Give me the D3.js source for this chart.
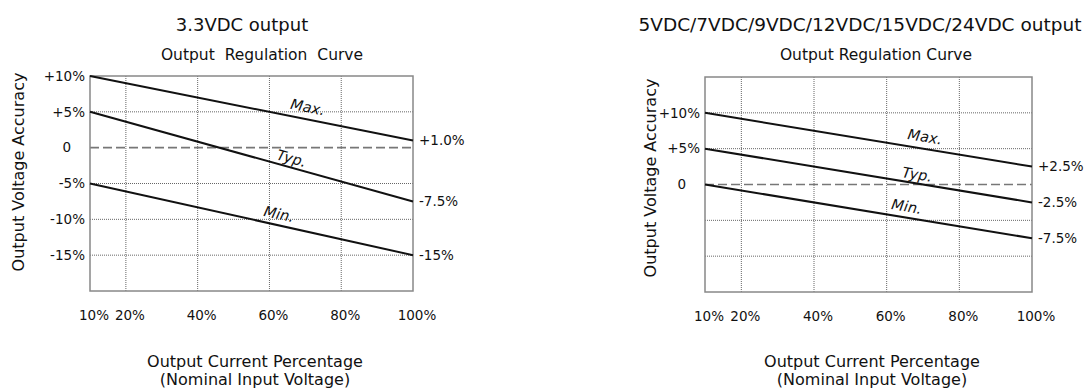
<!DOCTYPE html>
<html>
<head>
  <meta charset="utf-8">
  <title>output regulation</title>
  <script src="https://cdnjs.cloudflare.com/ajax/libs/d3/7.8.5/d3.min.js"></script>
  <style>
    body { margin: 0; background: #fff; }
    text { font-family: "DejaVu Sans", sans-serif; fill: #111; }
  </style>
</head>
<body>
<script>
var width = 1084, height = 389;

// shared x axis (output current %)
var xTicks = [10, 20, 40, 60, 80, 100];
var xTickLabels = ["10%", "20%", "40%", "60%", "80%", "100%"];
var curveNames = ["Max.", "Typ.", "Min."];

// 3.3VDC panel
var leftYTicks = [10, 5, 0, -5, -10, -15];
var leftYTickLabels = ["+10%", "+5%", "0", "-5%", "-10%", "-15%"];
var leftStart = [10, 5, -5];       // at 10% load
var leftEnd = [1.0, -7.5, -15];    // at 100% load
var leftEndLabels = ["+1.0%", "-7.5%", "-15%"];
var leftLabelAt = [70, 65.5, 62];  // where the curve name sits (x %)

// 5..24VDC panel
var rightYTicks = [10, 5, 0];
var rightYTickLabels = ["+10%", "+5%", "0"];
var rightGrid = [10, 5, -5, -10];
var rightStart = [10, 5, 0];
var rightEnd = [2.5, -2.5, -7.5];
var rightEndLabels = ["+2.5%", "-2.5%", "-7.5%"];
var rightLabelAt = [70, 68, 65];

var svg = d3.select("body").append("svg").attr("width", width).attr("height", height);

function panel(o) {
  var x = d3.scaleLinear().domain([10, 100]).range([o.x0, o.x1]);
  var y = d3.scaleLinear().domain(o.yDomain).range([o.y1, o.y0]);
  var g = svg.append("g");

  g.append("text").attr("x", o.titleX).attr("y", 31).attr("text-anchor", "middle")
    .style("font-size", o.titleSize + "px").text(o.title);
  g.append("text").attr("x", o.subX).attr("y", 60).attr("text-anchor", "middle")
    .style("font-size", "15.5px").style("word-spacing", o.subSpacing + "px").text("Output Regulation Curve");

  // grid
  g.selectAll("line.vg").data(xTicks.filter(function(d) { return d > 10 && d < 100; }))
    .enter().append("line").attr("class", "vg")
    .attr("x1", x).attr("x2", x).attr("y1", o.y0).attr("y2", o.y1)
    .attr("stroke", "#666").attr("stroke-width", 1).attr("stroke-dasharray", "1,1");
  g.selectAll("line.hg").data(o.grid)
    .enter().append("line").attr("class", "hg")
    .attr("x1", o.x0).attr("x2", o.x1).attr("y1", y).attr("y2", y)
    .attr("stroke", "#666").attr("stroke-width", 1).attr("stroke-dasharray", "1,1");
  g.append("line").attr("x1", o.x0).attr("x2", o.x1).attr("y1", y(0)).attr("y2", y(0))
    .attr("stroke", "#777").attr("stroke-width", 1.6).attr("stroke-dasharray", "9,4");

  g.append("rect").attr("x", o.x0).attr("y", o.y0).attr("width", o.x1 - o.x0).attr("height", o.y1 - o.y0)
    .attr("fill", "none").attr("stroke", "#888").attr("stroke-width", 1.5);

  // y tick labels
  g.selectAll("text.yt").data(o.yTicks).enter().append("text").attr("class", "yt")
    .attr("x", function(d, i) { return o.x0 - 5 - (o.yLabels[i].indexOf("%") < 0 ? 14 : 0); })
    .attr("y", y).attr("dy", "0.35em").attr("text-anchor", "end")
    .style("font-size", "13.5px").text(function(d, i) { return o.yLabels[i]; });

  // x tick labels
  g.selectAll("text.xt").data(xTicks).enter().append("text").attr("class", "xt")
    .attr("x", function(d) { return x(d) + 4; }).attr("y", o.y1 + 29).attr("text-anchor", "middle")
    .style("font-size", "13.5px").text(function(d, i) { return xTickLabels[i]; });

  // axis titles
  g.append("text").attr("transform", "translate(" + o.yTitleX + "," + o.yTitleY + ") rotate(-90)")
    .attr("text-anchor", "middle").style("font-size", "16px").text("Output Voltage Accuracy");
  g.append("text").attr("x", o.xTitleX).attr("y", 367).attr("text-anchor", "middle")
    .style("font-size", "16px").text("Output Current Percentage");
  g.append("text").attr("x", o.xTitleX).attr("y", 385).attr("text-anchor", "middle")
    .style("font-size", "16px").text("(Nominal Input Voltage)");

  // curves
  var line = d3.line().x(function(d) { return x(d[0]); }).y(function(d) { return y(d[1]); });
  curveNames.forEach(function(name, i) {
    var pts = [[10, o.start[i]], [100, o.end[i]]];
    g.append("path").attr("d", line(pts)).attr("fill", "none")
      .attr("stroke", "#111").attr("stroke-width", 2);

    g.append("text").attr("x", o.x1 + 6).attr("y", y(o.end[i])).attr("dy", "0.35em")
      .style("font-size", "13.5px").text(o.endLabels[i]);

    var lx = o.labelAt[i];
    var ly = o.start[i] + (o.end[i] - o.start[i]) * (lx - 10) / 90;
    var ang = Math.atan2(y(o.end[i]) - y(o.start[i]), x(100) - x(10)) * 180 / Math.PI;
    g.append("text")
      .attr("transform", "translate(" + x(lx) + "," + y(ly) + ") rotate(" + ang + ")")
      .attr("y", o.labelDy[i]).attr("text-anchor", "middle")
      .style("font-size", "14.5px").style("font-style", "italic").text(name);
  });
}

panel({
  x0: 90, x1: 413, y0: 76, y1: 291, yDomain: [-20, 10],
  title: "3.3VDC output", titleX: 242, titleSize: 18,
  subX: 262, subSpacing: 5,
  grid: [5, -5, -10, -15],
  yTicks: leftYTicks, yLabels: leftYTickLabels,
  start: leftStart, end: leftEnd, endLabels: leftEndLabels,
  labelAt: leftLabelAt, labelDy: [-7, -4, -6],
  yTitleX: 24, yTitleY: 172, xTitleX: 255
});

panel({
  x0: 705, x1: 1032, y0: 77, y1: 292, yDomain: [-15, 15],
  title: "5VDC/7VDC/9VDC/12VDC/15VDC/24VDC  output", titleX: 860, titleSize: 18.5,
  subX: 876, subSpacing: 0,
  grid: rightGrid,
  yTicks: rightYTicks, yLabels: rightYTickLabels,
  start: rightStart, end: rightEnd, endLabels: rightEndLabels,
  labelAt: rightLabelAt, labelDy: [-7, -4, -6],
  yTitleX: 656, yTitleY: 178, xTitleX: 872
});
</script>
</body>
</html>
